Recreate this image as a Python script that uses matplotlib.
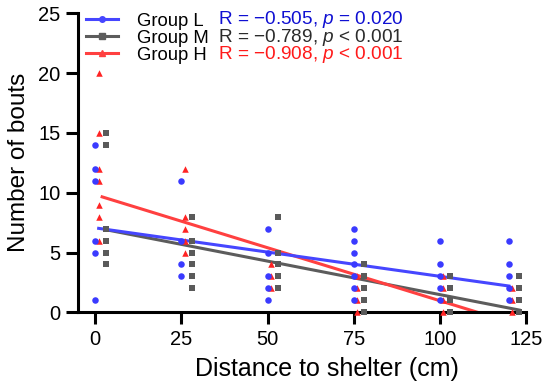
import numpy as np
import matplotlib
matplotlib.use("Agg")
import matplotlib.pyplot as plt
from matplotlib.lines import Line2D

plt.rcParams['font.family'] = ['Liberation Sans', 'DejaVu Sans']
plt.rcParams['mathtext.fontset'] = 'custom'
plt.rcParams['mathtext.rm'] = 'Liberation Sans'
plt.rcParams['mathtext.it'] = 'Liberation Sans:italic'

# distance (cm) and number of bouts per fish
dist_L = [0]*6 + [25]*4 + [50]*5 + [75]*7 + [100]*5 + [120]*5
bouts_L = [14, 12, 11, 6, 5, 1,
           11, 6, 4, 3,
           7, 5, 3, 2, 1,
           7, 6, 5, 4, 3, 2, 1,
           6, 4, 3, 2, 1,
           6, 4, 3, 2, 1]

dist_M = [0]*6 + [25]*6 + [50]*5 + [75]*5 + [100]*4 + [120]*4
bouts_M = [15, 14, 7, 6, 5, 4,
           8, 6, 5, 4, 3, 2,
           8, 5, 4, 3, 2,
           4, 3, 2, 1, 0,
           3, 2, 1, 0,
           3, 2, 1, 0]

dist_H = [0]*7 + [25]*5 + [50]*3 + [75]*4 + [100]*4 + [120]*3
bouts_H = [20, 15, 12, 11, 9, 8, 6,
           12, 8, 7, 6, 5,
           4, 3, 2,
           3, 2, 1, 0,
           3, 2, 1, 0,
           2, 1, 0]

groups = ["Group L", "Group M", "Group H"]
stats = ["R = \u22120.505, $\\it{p}$ = 0.020",
         "R = \u22120.789, $\\it{p}$ < 0.001",
         "R = \u22120.908, $\\it{p}$ < 0.001"]
# regression lines as drawn in the figure (intercept, slope)
fit_a = [7.06, 7.08, 9.83]
fit_b = [-0.0405, -0.056, -0.0886]
x_ticks = [0, 25, 50, 75, 100, 125]
y_ticks = [0, 5, 10, 15, 20, 25]

# offsets so the groups don't sit on top of each other
shift = {"Group L": 0, "Group M": 3, "Group H": 1}
pt_col = {"Group L": "#3a3aff", "Group M": "#5a5a5a", "Group H": "#ff2424"}
ln_col = {"Group L": "#4646ff", "Group M": "#5c5c5c", "Group H": "#ff4040"}
txt_col = {"Group L": "#0f0fd2", "Group M": "#2b2b2b", "Group H": "#ff1a1a"}
mk = {"Group L": "o", "Group M": "s", "Group H": "^"}
data = {"Group L": (dist_L, bouts_L), "Group M": (dist_M, bouts_M), "Group H": (dist_H, bouts_H)}

fig = plt.figure(figsize=(5.5, 3.9), dpi=100)
ax = fig.add_axes([0.1418, 0.1992, 0.8146, 0.7667])

for g in ["Group M", "Group H", "Group L"]:
    i = groups.index(g)
    x = np.array(data[g][0]) + shift[g]
    xx = np.array([x.min() + 1, x.max()])
    ax.plot(xx, fit_a[i] + fit_b[i]*xx, color=ln_col[g], lw=2.2, zorder=2)

for g in ["Group M", "Group H", "Group L"]:
    x = np.array(data[g][0]) + shift[g]
    y = np.array(data[g][1])
    ax.scatter(x, y, marker=mk[g], s=22, color=pt_col[g], linewidths=0, zorder=3, clip_on=False)

ax.set_xlim(-5, 125)
ax.set_ylim(0, 25)
ax.set_xticks(x_ticks)
ax.set_yticks(y_ticks)
for s in ["top", "right"]:
    ax.spines[s].set_visible(False)
for s in ["left", "bottom"]:
    ax.spines[s].set_linewidth(2.2)
ax.tick_params(width=2.2, length=8.6, labelsize=14.5, pad=4)
ax.set_xlabel("Distance to shelter (cm)", fontsize=18, labelpad=6, x=0.555)
ax.set_ylabel("Number of bouts", fontsize=17.5, labelpad=6)

handles = [Line2D([], [], color=ln_col[g], lw=2.2, marker=mk[g], markersize=4) for g in groups]
leg = ax.legend(handles, groups, loc="upper left", bbox_to_anchor=(0.0137, 1.008),
                frameon=False, fontsize=13.3, handlelength=1.73, handletextpad=1.03,
                labelspacing=0.0, borderpad=0.1, borderaxespad=0.0)

for i, g in enumerate(groups):
    fig.text(218/550, 1 - (24 + 17.5*i)/390, stats[i], color=txt_col[g], fontsize=13.7,
             va="baseline", ha="left")

fig.savefig("out.png", dpi=100)
